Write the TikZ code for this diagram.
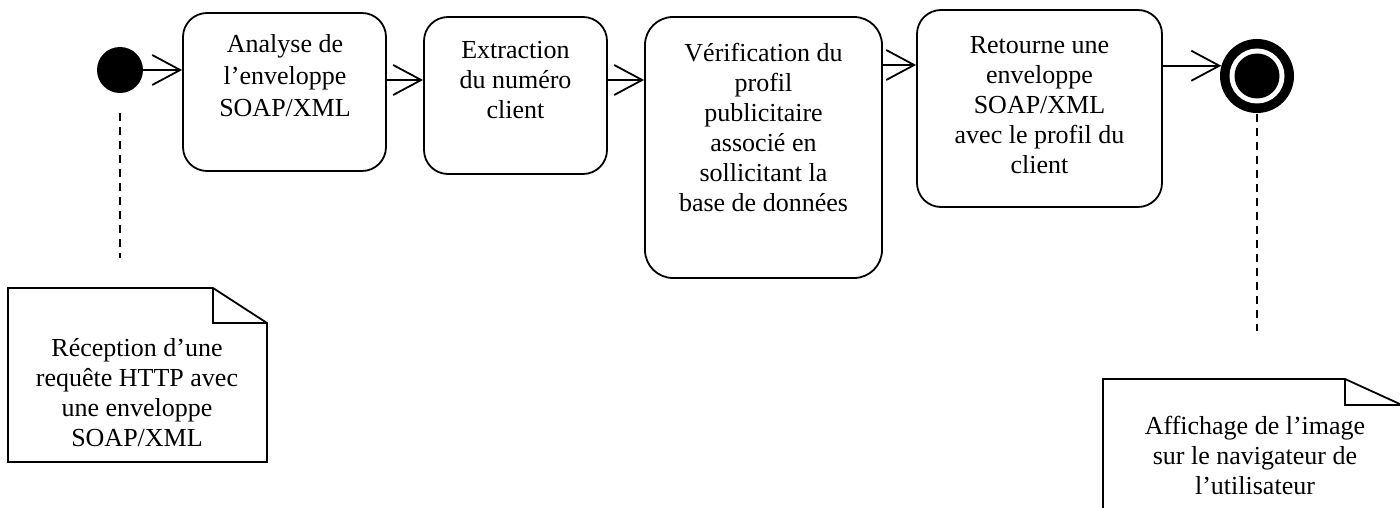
\documentclass[tikz,border=0pt]{standalone}
\usepackage{fontspec}
\setmainfont{Liberation Serif}
\usetikzlibrary{arrows.meta}
\begin{document}
\begin{tikzpicture}[x=1pt,y=-1pt,
  actbox/.style={draw=black,line width=1.8pt,rounded corners=24pt,inner sep=0pt},
  lbl/.style={anchor=north,inner sep=0pt,align=center,font=\fontsize{26}{30}\selectfont,execute at begin node=\strut},
  flow/.style={line width=1.8pt,-{Straight Barb[length=28pt,width=30pt,line width=1.8pt]}},
  dash line/.style={line width=2pt,dash pattern=on 8pt off 6pt},
  notebox/.style={line width=1.8pt,line join=miter}]
\useasboundingbox (0,0) rectangle (1400,508);
\clip (0,0) rectangle (1400,508);

% initial and final states
\node[circle,fill=black,inner sep=0pt,minimum size=46pt] (init) at (120,70) {};
\node[circle,fill=black,inner sep=0pt,minimum size=74pt] (fin) at (1257,76) {};
\fill[white] (fin.center) circle (27.5pt);
\fill[black] (fin.center) circle (22.5pt);

% activity boxes
\node[actbox,minimum width=203pt,minimum height=158pt] (b1) at (284.5,92) {};
\node[actbox,minimum width=183pt,minimum height=157pt] (b2) at (515.5,95.5) {};
\node[actbox,rounded corners=28pt,minimum width=237pt,minimum height=261pt] (b3) at (763.5,147.5) {};
\node[actbox,minimum width=245pt,minimum height=197pt] (b4) at (1039.5,108.5) {};

\node[lbl,font=\fontsize{26}{32}\selectfont] (b1t) at (285,34) {Analyse de\\l’enveloppe\\SOAP/XML};
\node[lbl] (b2t) at (515.5,41) {Extraction\\du numéro\\client};
\node[lbl] (b3t) at (763.5,43) {Vérification du\\profil\\publicitaire\\associé en\\sollicitant la\\base de données};
\node[lbl] (b4t) at (1039.5,36) {Retourne une\\enveloppe\\SOAP/XML\\avec le profil du\\client};

% flows
\draw[flow] (init.east) -- (init.east -| b1.west);
\draw[flow] (b1.east |- 0,80) -- (b2.west |- 0,80);
\draw[flow] (b2.east |- 0,80) -- (b3.west |- 0,80);
\draw[flow] (b3.east |- 0,65) -- (b4.west |- 0,65);
\draw[flow] (b4.east |- fin.164) -- (fin.164);

% notes
\coordinate (n1end) at (120,258);
\coordinate (n2end) at (1257,331);
\draw[dash line] ([yshift=-20pt]init.south) -- (n1end);
\draw[dash line] ([yshift=-1pt]fin.south) -- (n2end);

\draw[notebox] (8,288) -- (213,288) -- (267,323) -- (267,462) -- (8,462) -- cycle;
\draw[notebox] (213,288) -- (213,323) -- (267,323);
\node[lbl] (n1t) at (137,338) {Réception d’une\\requête HTTP avec\\une enveloppe\\SOAP/XML};

\draw[notebox] (1103,520) -- (1103,379) -- (1345,379) -- (1402,405) -- (1402,520);
\draw[notebox] (1345,379) -- (1345,405) -- (1402,405);
\node[lbl] (n2t) at (1255,416) {Affichage de l’image\\sur le navigateur de\\l’utilisateur};
\end{tikzpicture}
\end{document}
